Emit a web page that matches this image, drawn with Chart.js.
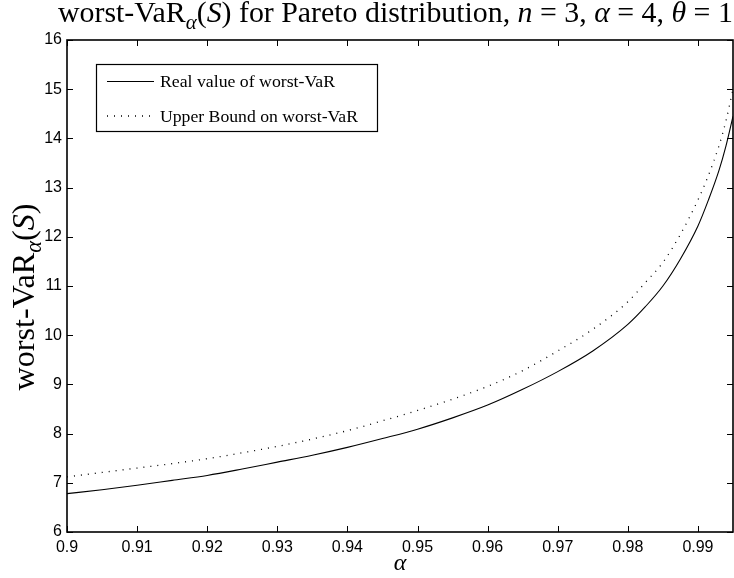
<!DOCTYPE html>
<html>
<head>
<meta charset="utf-8">
<script src="https://cdn.jsdelivr.net/npm/chart.js@4.4.1/dist/chart.umd.min.js"></script>
<style>
  html, body { margin: 0; padding: 0; background: #fff; }
  #wrap { width: 734px; height: 578px; }
</style>
</head>
<body>
<div id="wrap"><canvas id="varChart"></canvas></div>
<script>
// confidence levels (x) and the two curves
const alphas = [0.900, 0.905, 0.910, 0.915, 0.920, 0.925, 0.930, 0.935, 0.940, 0.945,
  0.950, 0.955, 0.960, 0.965, 0.970, 0.975, 0.980, 0.9825, 0.985, 0.9875,
  0.990, 0.9915, 0.993, 0.994, 0.995];
const realVaR = [6.78, 6.86, 6.95, 7.05, 7.15, 7.28, 7.42, 7.56, 7.72, 7.90,
  8.09, 8.32, 8.58, 8.90, 9.26, 9.68, 10.22, 10.58, 11.00, 11.55,
  12.22, 12.75, 13.35, 13.85, 14.45];
const upperVaR = [7.12, 7.21, 7.30, 7.39, 7.49, 7.61, 7.74, 7.89, 8.06, 8.26,
  8.47, 8.70, 8.96, 9.28, 9.68, 10.12, 10.68, 11.07, 11.48, 12.05,
  12.75, 13.25, 13.85, 14.36, 15.00];
const seriesNames = ['Real value of worst-VaR', 'Upper Bound on worst-VaR'];

const SERIF = '"Liberation Serif", "Times New Roman", serif';
const SANS = '"Liberation Sans", Arial, sans-serif';

// rich text pieces: {t, it, sub}
function segFont(s, size) {
  const sz = s.sub ? size * 0.7 : size;
  return (s.it ? 'italic ' : '') + sz.toFixed(2) + 'px ' + SERIF;
}
function segsWidth(ctx, segs, size) {
  let w = 0;
  segs.forEach(s => { ctx.font = segFont(s, size); w += ctx.measureText(s.t).width; });
  return w;
}
function drawSegs(ctx, segs, x, y, size) {
  ctx.textAlign = 'left';
  ctx.textBaseline = 'alphabetic';
  segs.forEach(s => {
    ctx.font = segFont(s, size);
    ctx.fillText(s.t, x, y + (s.sub ? size * 0.22 : 0));
    x += ctx.measureText(s.t).width;
  });
}
function fitSize(ctx, segs, width, base) {
  return base * width / segsWidth(ctx, segs, base);
}

const titleSegs = [{t: 'worst-VaR'}, {t: 'α', it: true, sub: true}, {t: '('}, {t: 'S', it: true},
  {t: ') for Pareto distribution, '}, {t: 'n', it: true}, {t: ' = 3, '}, {t: 'α', it: true},
  {t: ' = 4, '}, {t: 'θ', it: true}, {t: ' = 1'}];
const yLabelSegs = [{t: 'worst-VaR'}, {t: 'α', it: true, sub: true}, {t: '('}, {t: 'S', it: true}, {t: ')'}];

const matlabLook = {
  id: 'matlabLook',
  afterDraw(chart) {
    const ctx = chart.ctx;
    const a = chart.chartArea;
    const xs = chart.scales.x, ys = chart.scales.y;
    ctx.save();
    ctx.fillStyle = '#000';
    ctx.strokeStyle = '#000';

    // inward tick marks on all four sides
    ctx.lineWidth = 1;
    ctx.beginPath();
    xs.ticks.forEach(t => {
      const px = Math.round(xs.getPixelForValue(t.value)) + 0.5;
      ctx.moveTo(px, a.bottom); ctx.lineTo(px, a.bottom - 6);
      ctx.moveTo(px, a.top); ctx.lineTo(px, a.top + 6);
    });
    ys.ticks.forEach(t => {
      const py = Math.round(ys.getPixelForValue(t.value)) + 0.5;
      ctx.moveTo(a.left, py); ctx.lineTo(a.left + 6, py);
      ctx.moveTo(a.right, py); ctx.lineTo(a.right - 6, py);
    });
    ctx.stroke();

    // axes box
    ctx.lineWidth = 1.6;
    ctx.strokeRect(a.left, a.top, a.right - a.left, a.bottom - a.top);

    // title
    const ts = fitSize(ctx, titleSegs, 675, 22);
    drawSegs(ctx, titleSegs, 58, 22, ts);

    // y label
    const ys2 = fitSize(ctx, yLabelSegs, 187, 22);
    const yw = segsWidth(ctx, yLabelSegs, ys2);
    ctx.save();
    ctx.translate(34, 297);
    ctx.rotate(-Math.PI / 2);
    drawSegs(ctx, yLabelSegs, -yw / 2, 0, ys2);
    ctx.restore();

    // x label
    ctx.font = 'italic 24px ' + SERIF;
    ctx.textAlign = 'center';
    ctx.fillText('α', (a.left + a.right) / 2, 570);

    // legend
    const lx = 96, ly = 64, lw = 281, lh = 67;
    ctx.fillStyle = '#fff';
    ctx.fillRect(lx, ly, lw, lh);
    ctx.lineWidth = 1.2;
    ctx.strokeRect(lx + 0.5, ly + 0.5, lw, lh);
    const rowsY = [81.5, 116];
    const textW = [175, 198];
    chart.data.datasets.forEach((ds, i) => {
      const y = rowsY[i];
      ctx.save();
      ctx.strokeStyle = ds.borderColor;
      ctx.lineWidth = ds.borderWidth;
      ctx.setLineDash(ds.borderDash || []);
      ctx.beginPath();
      ctx.moveTo(107, y); ctx.lineTo(154, y);
      ctx.stroke();
      ctx.restore();
      ctx.fillStyle = '#000';
      const seg = [{t: ds.label}];
      const fs = fitSize(ctx, seg, textW[i], 14);
      ctx.textBaseline = 'middle';
      ctx.font = fs.toFixed(2) + 'px ' + SERIF;
      ctx.textAlign = 'left';
      ctx.fillText(ds.label, 160, y + 1);
    });
    ctx.restore();
  }
};

const ctx = document.getElementById('varChart').getContext('2d');

new Chart(ctx, {
  type: 'line',
  data: {
    datasets: [{
      label: seriesNames[0],
      data: alphas.map((a, i) => ({x: a, y: realVaR[i]})),
      borderColor: '#000',
      borderWidth: 1.1,
      pointRadius: 0,
      cubicInterpolationMode: 'monotone'
    }, {
      label: seriesNames[1],
      data: alphas.map((a, i) => ({x: a, y: upperVaR[i]})),
      borderColor: '#000',
      borderWidth: 1.3,
      borderDash: [1, 6],
      pointRadius: 0,
      cubicInterpolationMode: 'monotone'
    }]
  },
  options: {
    responsive: true,
    maintainAspectRatio: false,
    animation: false,
    layout: { padding: { top: 40, right: 1, bottom: 0, left: 0 } },
    plugins: {
      legend: { display: false },
      title: { display: false },
      tooltip: { enabled: false }
    },
    scales: {
      x: {
        type: 'linear',
        min: 0.9,
        max: 0.995,
        grid: { display: false, drawTicks: false },
        border: { display: false },
        afterFit: s => { s.height = 46; },
        ticks: {
          stepSize: 0.01,
          includeBounds: false,
          maxRotation: 0,
          autoSkip: false,
          padding: 6,
          color: '#000',
          font: { family: SANS, size: 16 },
          callback: v => String(Number(v.toFixed(3)))
        }
      },
      y: {
        min: 6,
        max: 16,
        grid: { display: false, drawTicks: false },
        border: { display: false },
        afterFit: s => { s.width = 67; },
        ticks: {
          stepSize: 1,
          padding: 5,
          color: '#000',
          font: { family: SANS, size: 16 }
        }
      }
    }
  },
  plugins: [matlabLook]
});
</script>
</body>
</html>
